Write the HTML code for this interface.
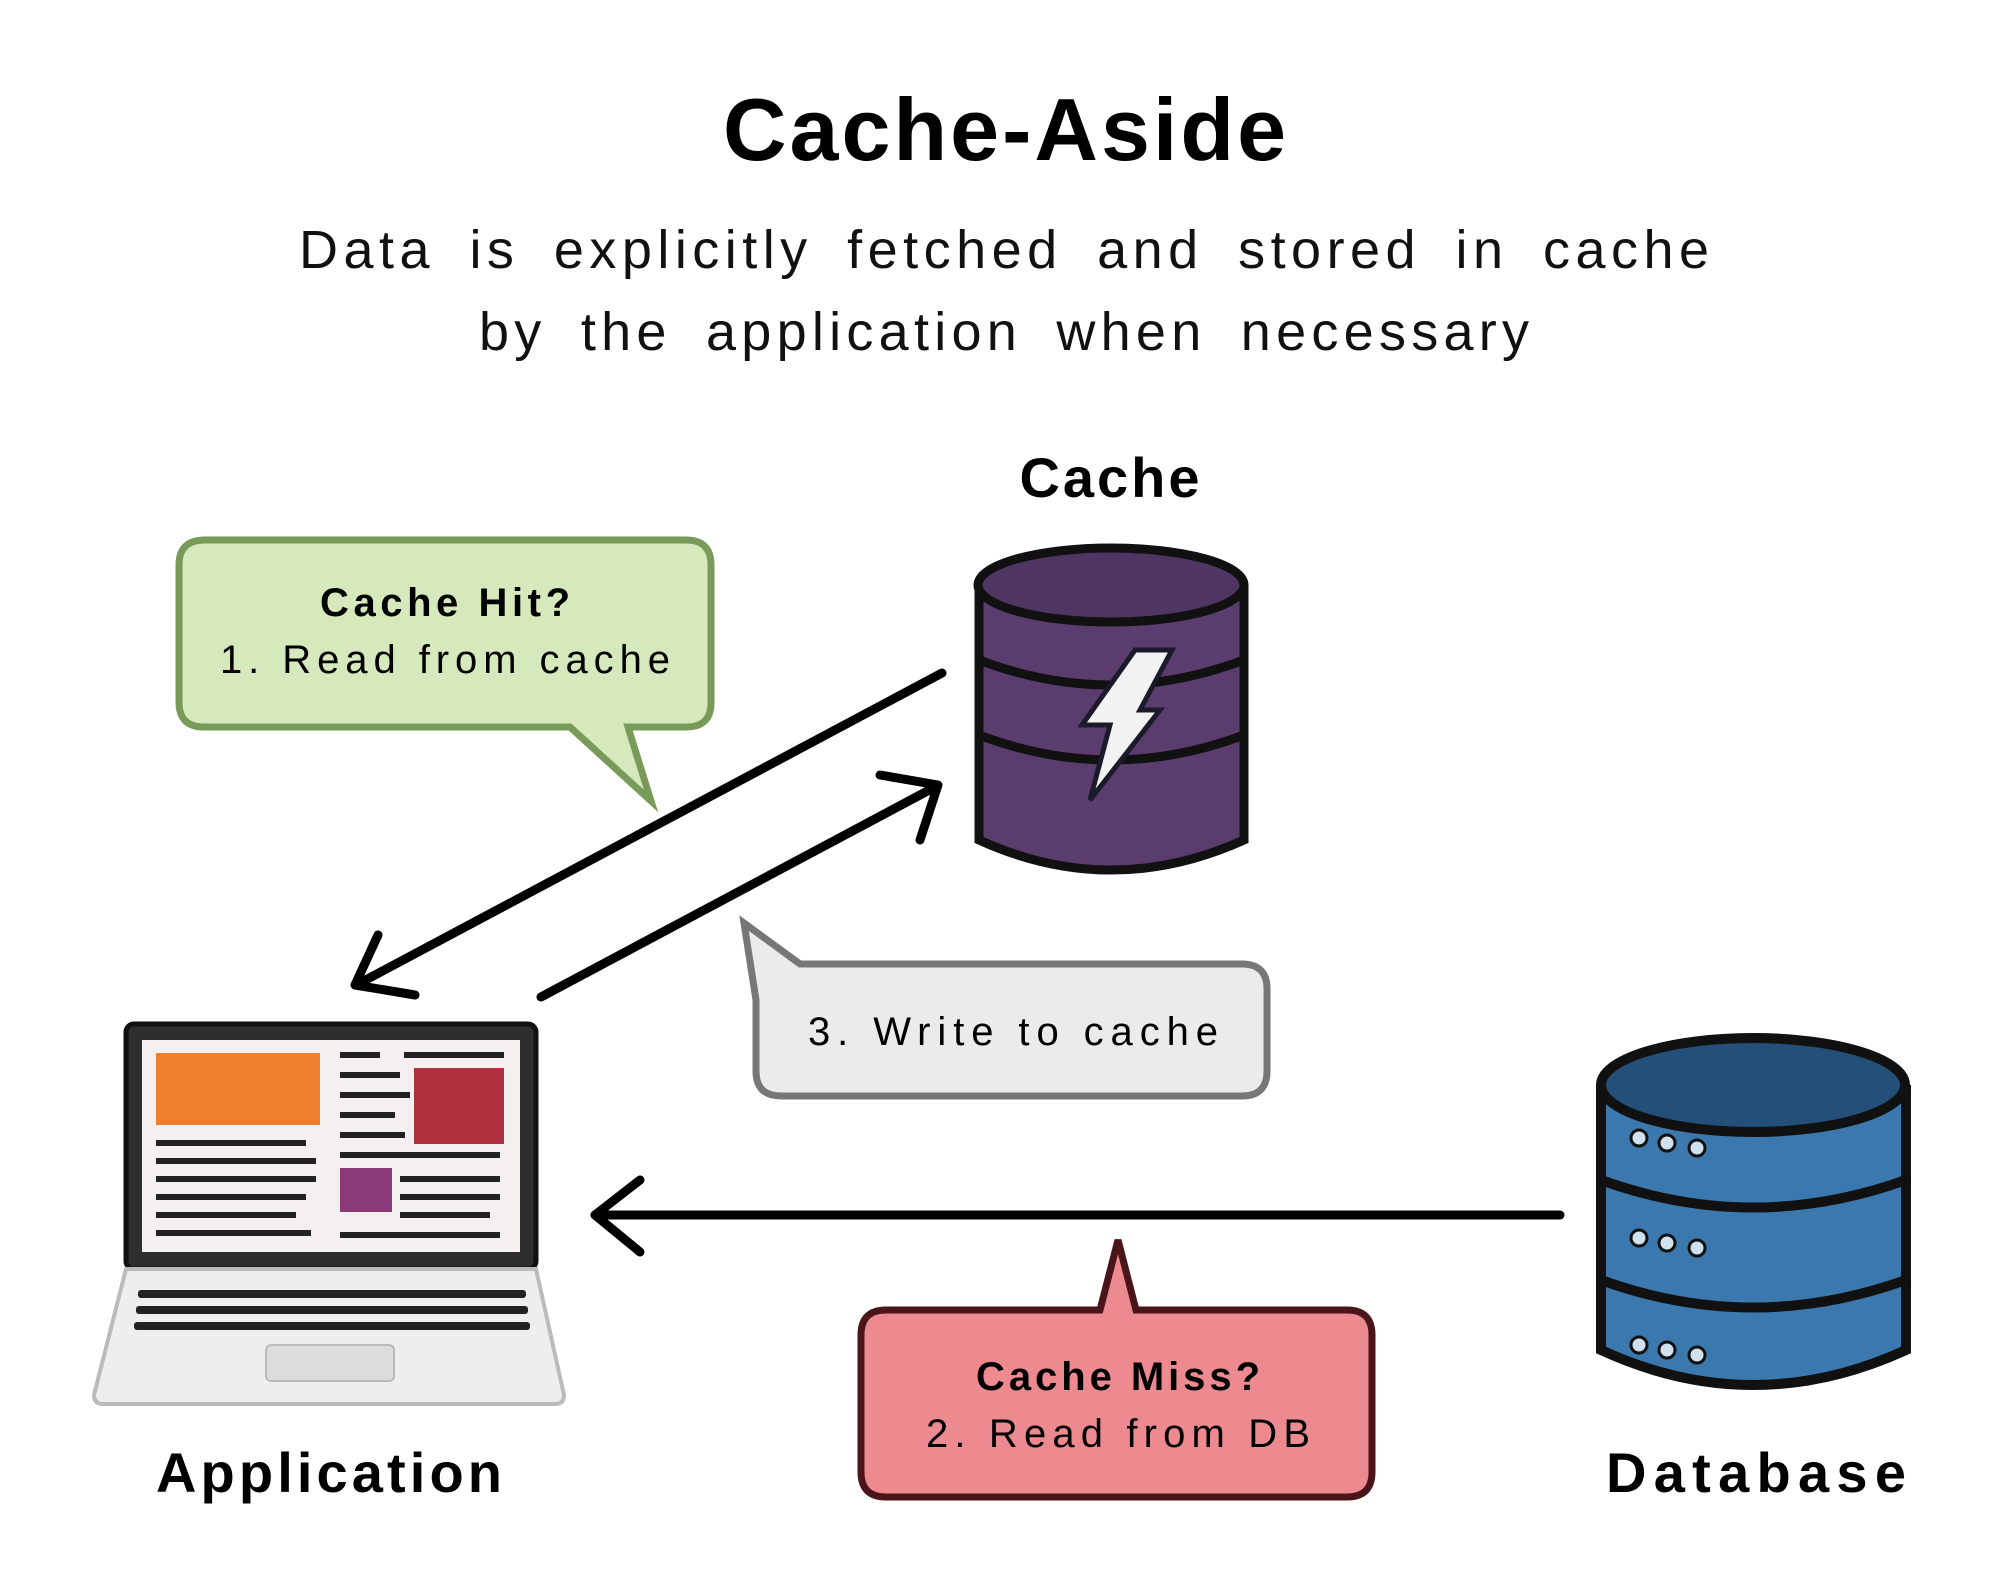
<!DOCTYPE html>
<html><head><meta charset="utf-8"><style>
html,body{margin:0;padding:0;background:#fff;}
svg{display:block}
text{font-family:"Liberation Sans",sans-serif;}
</style></head><body>
<svg width="2000" height="1595" viewBox="0 0 2000 1595" xmlns="http://www.w3.org/2000/svg">
<rect width="2000" height="1595" fill="#fff"/>
<text x="1006" y="160" text-anchor="middle" font-size="88" font-weight="bold" fill="#000" letter-spacing="3">Cache-Aside</text>
<text x="1004" y="268" text-anchor="middle" font-size="54" fill="#111" word-spacing="14" textLength="1410">Data is explicitly fetched and stored in cache</text>
<text x="1004" y="350" text-anchor="middle" font-size="54" fill="#111" word-spacing="14" textLength="1050">by the application when necessary</text>

<text x="1111" y="497" text-anchor="middle" font-size="56" font-weight="bold" letter-spacing="3">Cache</text>

<!-- green bubble -->
<path d="M205,540 H686 Q711,540 711,565 V703 Q711,727 686,727 H628 L651,801 L570,727 H204 Q179,727 179,702 V565 Q179,540 205,540 Z" fill="#d6e9bc" stroke="#7a9a5a" stroke-width="7"/>
<text x="445" y="616" text-anchor="middle" font-size="40" font-weight="bold" textLength="250">Cache Hit?</text>
<text x="445" y="673" text-anchor="middle" font-size="40" textLength="450">1. Read from cache</text>

<!-- cache cylinder -->
<g stroke="#111" stroke-width="9">
<path d="M979,585 V840 Q1111,900 1244,840 V585" fill="#5a3d6e"/>
<path d="M979,660 Q1111,710 1244,660" fill="none"/>
<path d="M979,735 Q1111,785 1244,735" fill="none"/>
<ellipse cx="1111" cy="585" rx="133" ry="37" fill="#4e3562"/>
</g>
<path d="M1135,650 L1172,650 L1140,710 L1160,710 L1090,800 L1110,725 L1082,725 Z" fill="#f2f2f2" stroke="#1a1a2a" stroke-width="5"/>

<!-- arrows cache<->app -->
<g stroke="#000" stroke-width="9" fill="none" stroke-linecap="round" stroke-linejoin="round">
<line x1="942" y1="673" x2="360" y2="983"/>
<path d="M378,935 L355,985 L415,995"/>
<line x1="541" y1="997" x2="935" y2="787"/>
<path d="M880,775 L938,785 L920,840"/>
<line x1="1560" y1="1215" x2="595" y2="1215"/>
<path d="M640,1180 L595,1215 L640,1252"/>
</g>

<!-- gray bubble -->
<path d="M800,964 H1242 Q1267,964 1267,989 V1071 Q1267,1096 1242,1096 H781 Q756,1096 756,1071 V1000 L744,923 L800,964 Z" fill="#ebebeb" stroke="#777" stroke-width="7"/>
<text x="1013" y="1045" text-anchor="middle" font-size="40" textLength="410">3. Write to cache</text>

<!-- laptop -->
<rect x="126" y="1024" width="410" height="245" rx="8" fill="#2e2e2e" stroke="#111" stroke-width="5"/>
<rect x="142" y="1040" width="378" height="212" fill="#f4f0f0"/>
<rect x="156" y="1053" width="164" height="72" fill="#f08030"/>
<rect x="414" y="1068" width="90" height="76" fill="#b03040"/>
<rect x="340" y="1168" width="52" height="44" fill="#8a3a78"/>
<g fill="#222">
<rect x="340" y="1052" width="40" height="6"/><rect x="404" y="1052" width="100" height="6"/>
<rect x="340" y="1072" width="60" height="6"/><rect x="340" y="1092" width="70" height="6"/><rect x="340" y="1112" width="55" height="6"/><rect x="340" y="1132" width="65" height="6"/><rect x="340" y="1152" width="160" height="6"/>
<rect x="156" y="1140" width="150" height="6"/><rect x="156" y="1158" width="160" height="6"/><rect x="156" y="1176" width="160" height="6"/><rect x="156" y="1194" width="150" height="6"/><rect x="156" y="1212" width="140" height="6"/><rect x="156" y="1230" width="155" height="6"/>
<rect x="400" y="1176" width="100" height="6"/><rect x="400" y="1194" width="100" height="6"/><rect x="400" y="1212" width="90" height="6"/><rect x="340" y="1232" width="160" height="6"/>
</g>
<path d="M126,1269 H536 L564,1395 Q564,1404 555,1404 H103 Q94,1404 94,1395 Z" fill="#eeeeee" stroke="#bbb" stroke-width="4"/>
<g fill="#222">
<rect x="138" y="1290" width="388" height="8" rx="3"/><rect x="136" y="1306" width="392" height="8" rx="3"/><rect x="134" y="1322" width="396" height="8" rx="3"/>
</g>
<rect x="266" y="1345" width="128" height="36" rx="5" fill="#dcdcdc" stroke="#bbb" stroke-width="2"/>
<text x="329" y="1492" text-anchor="middle" font-size="56" font-weight="bold" textLength="346">Application</text>

<!-- red bubble -->
<path d="M886,1310 H1100 L1118,1240 L1136,1310 H1347 Q1372,1310 1372,1335 V1472 Q1372,1497 1347,1497 H886 Q861,1497 861,1472 V1335 Q861,1310 886,1310 Z" fill="#ec8a90" stroke="#4a1518" stroke-width="7"/>
<text x="1118" y="1390" text-anchor="middle" font-size="40" font-weight="bold" textLength="284">Cache Miss?</text>
<text x="1118" y="1447" text-anchor="middle" font-size="40" textLength="384">2. Read from DB</text>

<!-- database -->
<g transform="translate(-8,0)">
<g stroke="#111" stroke-width="10">
<path d="M1609,1085 V1350 Q1761,1420 1914,1350 V1085" fill="#3a78ad"/>
<path d="M1609,1180 Q1761,1235 1914,1180" fill="none"/>
<path d="M1609,1280 Q1761,1335 1914,1280" fill="none"/>
<ellipse cx="1761" cy="1085" rx="152" ry="47" fill="#234f78"/>
</g>
<g fill="#cfe0ee" stroke="#111" stroke-width="3">
<circle cx="1647" cy="1138" r="8"/><circle cx="1675" cy="1143" r="8"/><circle cx="1705" cy="1148" r="8"/>
<circle cx="1647" cy="1238" r="8"/><circle cx="1675" cy="1243" r="8"/><circle cx="1705" cy="1248" r="8"/>
<circle cx="1647" cy="1345" r="8"/><circle cx="1675" cy="1350" r="8"/><circle cx="1705" cy="1355" r="8"/>
</g>
</g>
<text x="1756" y="1492" text-anchor="middle" font-size="56" font-weight="bold" textLength="300">Database</text>
</svg>
</body></html>
